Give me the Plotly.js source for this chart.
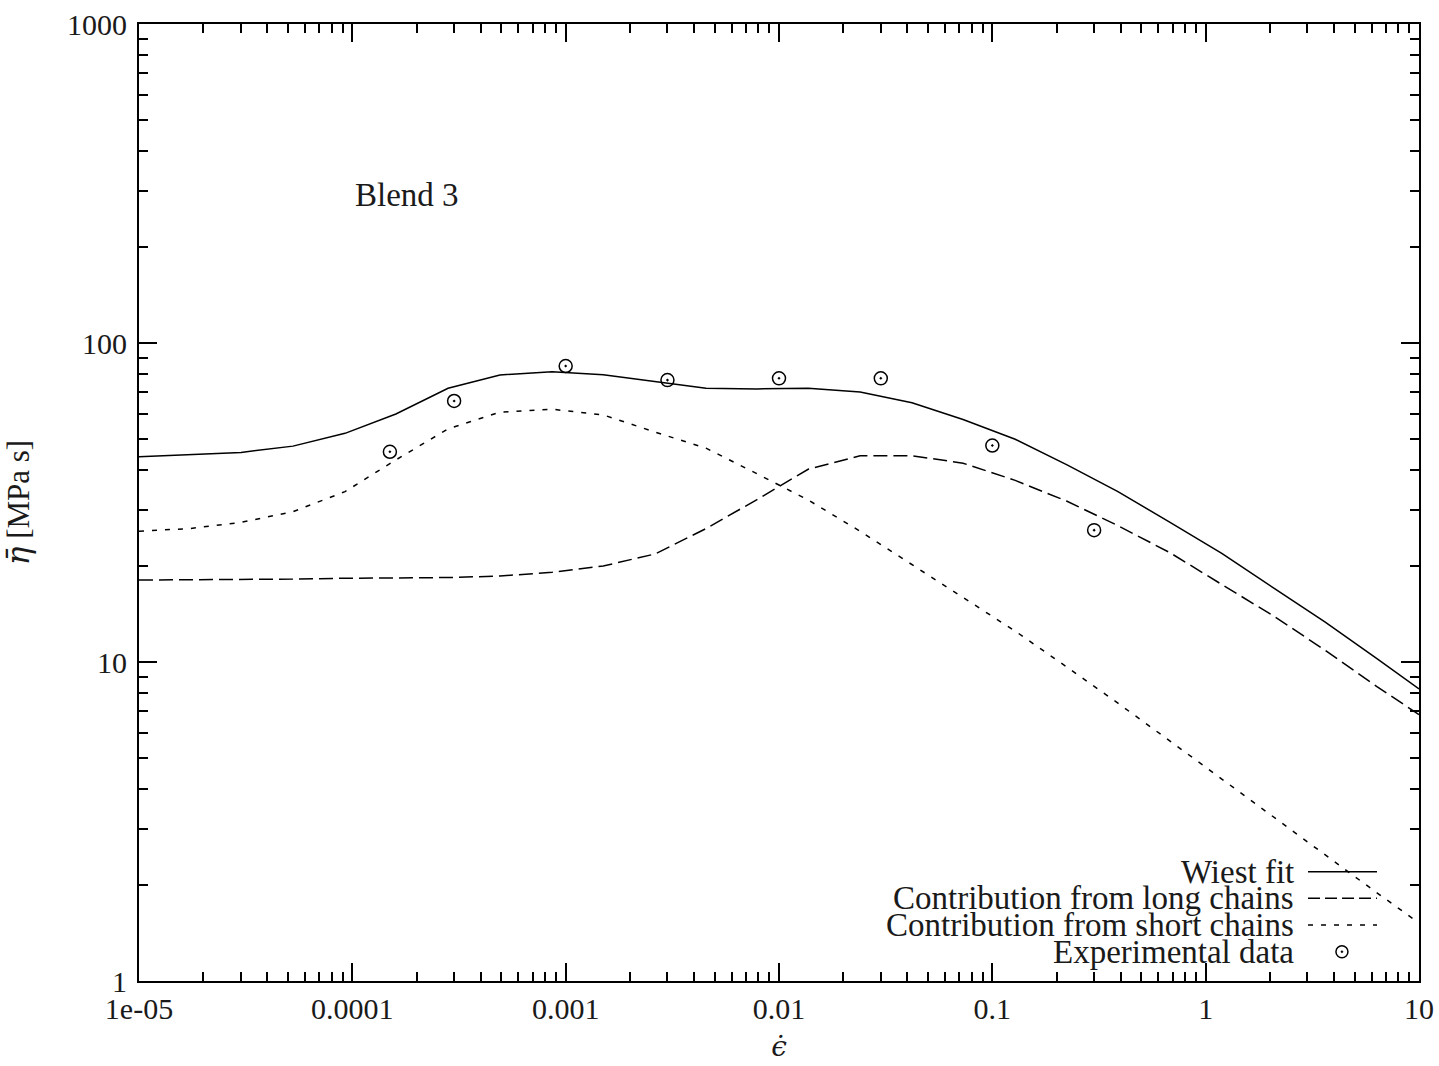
<!DOCTYPE html>
<html>
<head>
<meta charset="utf-8">
<script src="https://cdn.plot.ly/plotly-3.0.1.min.js"></script>
<style>
  html, body { margin: 0; padding: 0; background: #fff; }
  #chart { width: 1439px; height: 1066px; }
</style>
</head>
<body>
<div id="chart"></div>
<script>
// ---- data ----
const strainRate = [1.0e-5, 1.73e-5, 3.01e-5, 5.27e-5, 9.24e-5, 1.60e-4, 2.81e-4, 4.92e-4, 8.63e-4,
                    1.50e-3, 2.62e-3, 4.55e-3, 7.89e-3, 1.37e-2, 2.40e-2, 4.20e-2, 7.29e-2, 0.128,
                    0.224, 0.388, 0.681, 1.19, 2.07, 3.62, 6.35, 10];
const wiestFit   = [44.0, 44.6, 45.4, 47.5, 52.1, 59.9, 72.1, 79.4, 81.3, 79.5, 75.7, 72.1, 71.8,
                    72.1, 70.2, 65.0, 57.6, 49.9, 41.5, 34.2, 27.4, 21.9, 17.1, 13.35, 10.25, 8.23];
const longChains = [18.07, 18.1, 18.15, 18.2, 18.3, 18.35, 18.4, 18.6, 19.1, 20.0, 21.8, 26.2, 32.3,
                    40.2, 44.3, 44.3, 42.0, 37.1, 31.9, 26.75, 22.0, 17.5, 13.97, 10.9, 8.37, 6.84];
const shortChains = [25.7, 26.2, 27.4, 29.6, 34.2, 43.0, 53.8, 60.7, 62.0, 59.5, 52.6, 46.8, 38.9,
                     32.2, 25.7, 20.2, 15.9, 12.5, 9.63, 7.43, 5.65, 4.30, 3.27, 2.48, 1.89, 1.52];
const expRate = [1.5e-4, 3e-4, 1e-3, 3e-3, 1e-2, 3e-2, 0.1, 0.3];
const expEta  = [45.6, 65.8, 84.7, 76.5, 77.5, 77.5, 47.7, 25.9];

const xTickVals = [1e-5, 1e-4, 1e-3, 1e-2, 1e-1, 1, 10];
const xTickText = ['1e-05', '0.0001', '0.001', '0.01', '0.1', '1', '10'];
const yTickVals = [1, 10, 100, 1000];
const yTickText = ['1', '10', '100', '1000'];

const seriesNames = ['Wiest fit', 'Contribution from long chains',
                     'Contribution from short chains', 'Experimental data'];

// minor tick positions (2..9 within each decade)
function minorTicks(lo, hi) {
  const out = [];
  for (let d = lo; d < hi; d++) for (let k = 2; k <= 9; k++) out.push(k * Math.pow(10, d));
  return out;
}

const FONT = '"Liberation Serif", "Times New Roman", serif';
const INK = '#000';
const TXT = '#1a1a1a';

const traces = [
  { x: strainRate, y: wiestFit, mode: 'lines', name: seriesNames[0],
    line: { color: INK, width: 1.5 } },
  { x: strainRate, y: longChains, mode: 'lines', name: seriesNames[1],
    line: { color: INK, width: 1.5, dash: '14px,6px' } },
  { x: strainRate, y: shortChains, mode: 'lines', name: seriesNames[2],
    line: { color: INK, width: 1.5, dash: '5px,8px' } },
  { x: expRate, y: expEta, mode: 'markers', name: seriesNames[3],
    marker: { symbol: 'circle-open-dot', size: 13, color: INK, line: { color: INK, width: 1.5 } } }
];

const axisCommon = {
  type: 'log', showgrid: false, zeroline: false,
  showline: true, linecolor: INK, linewidth: 2, mirror: 'allticks',
  ticks: 'inside', ticklen: 18, tickwidth: 2, tickcolor: INK,
  tickmode: 'array',
  tickfont: { family: FONT, size: 30, color: TXT }
};

// legend drawn as text + samples at bottom right (text left of sample, as in the reference)
const legX = 0.9031, sx0 = 0.9133, sx1 = 0.9672, cx = 0.9398;
const legY = [0.1142, 0.0864, 0.0585, 0.0306];

const annotations = [
  { text: 'Blend 3', xref: 'paper', yref: 'paper', x: 0.167, y: 0.8213,
    xanchor: 'left', yanchor: 'middle', showarrow: false,
    font: { family: FONT, size: 33, color: TXT } }
];
seriesNames.forEach((n, i) => annotations.push({
  text: n, xref: 'paper', yref: 'paper', x: legX, y: legY[i],
  xanchor: 'right', yanchor: 'middle', showarrow: false, borderpad: 0,
  font: { family: FONT, size: 33, color: TXT }
}));

const shapes = [
  { type: 'line', xref: 'paper', yref: 'paper', x0: sx0, x1: sx1, y0: legY[0], y1: legY[0],
    line: { color: INK, width: 1.5 } },
  { type: 'line', xref: 'paper', yref: 'paper', x0: sx0, x1: sx1, y0: legY[1], y1: legY[1],
    line: { color: INK, width: 1.5, dash: '12px,5px' } },
  { type: 'line', xref: 'paper', yref: 'paper', x0: sx0, x1: sx1, y0: legY[2], y1: legY[2],
    line: { color: INK, width: 1.5, dash: '5px,8px' } },
  { type: 'circle', xref: 'paper', yref: 'paper', xsizemode: 'pixel', ysizemode: 'pixel',
    xanchor: cx, yanchor: legY[3], x0: -6, x1: 6, y0: -6, y1: 6,
    line: { color: INK, width: 1.5 } },
  { type: 'circle', xref: 'paper', yref: 'paper', xsizemode: 'pixel', ysizemode: 'pixel',
    xanchor: cx, yanchor: legY[3], x0: -1, x1: 1, y0: -1, y1: 1,
    fillcolor: INK, line: { color: INK, width: 0.5 } }
];

const layout = {
  width: 1439, height: 1066,
  margin: { l: 139, r: 20, t: 24, b: 85 },
  paper_bgcolor: '#fff', plot_bgcolor: '#fff',
  showlegend: false,
  font: { family: FONT, size: 30, color: TXT },
  xaxis: Object.assign({}, axisCommon, {
    range: [-5, 1],
    tickvals: xTickVals, ticktext: xTickText,
    minor: { tickmode: 'array', tickvals: minorTicks(-5, 1), ticks: 'inside',
             ticklen: 9, tickwidth: 2, tickcolor: INK, showgrid: false },
    title: { text: '<span style="font-family:DejaVu Serif;font-style:italic">ϵ̇</span>',
             font: { family: FONT, size: 28, color: TXT }, standoff: 12 }
  }),
  yaxis: Object.assign({}, axisCommon, {
    range: [0, 3],
    tickvals: yTickVals, ticktext: yTickText,
    ticklabelstandoff: 4,
    minor: { tickmode: 'array', tickvals: minorTicks(0, 3), ticks: 'inside',
             ticklen: 9, tickwidth: 2, tickcolor: INK, showgrid: false },
    title: { text: '<span style="font-family:DejaVu Serif;font-style:italic">η̄</span> [MPa s]',
             font: { family: FONT, size: 31, color: TXT }, standoff: 28 }
  }),
  annotations: annotations,
  shapes: shapes
};

Plotly.newPlot('chart', traces, layout, { displayModeBar: false, staticPlot: true });
</script>
</body>
</html>
